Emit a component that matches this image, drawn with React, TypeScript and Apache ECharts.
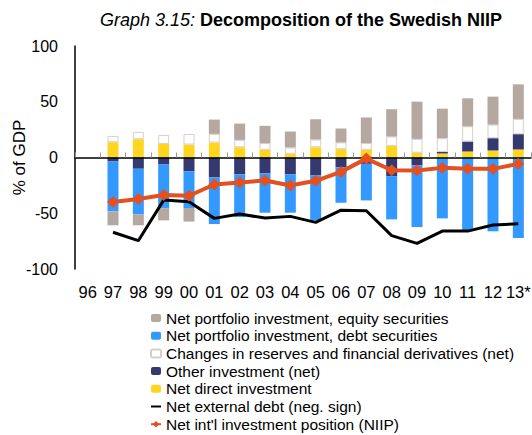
import React, { useEffect, useRef } from "react";
import * as echarts from "echarts";

const categories = ["96", "97", "98", "99", "00", "01", "02", "03", "04", "05", "06", "07", "08", "09", "10", "11", "12", "13*"];
const yTicks = [-100, -50, 0, 50, 100];

const directInv = [null, 13.7, 16.4, 12.2, 11.6, 13.4, 9.2, 6.9, 3.3, 9.2, 7.5, 6.9, 10.4, 4.2, 3.6, 5.4, 6.3, 7.2];
const otherInv = [null, -3.6, -10.1, -6.3, -12.5, -17.9, -15.2, -14.3, -15.2, -15.8, -8.7, -5.7, -16.7, -6.9, 1.5, 8.9, 11.0, 13.7];
const reserves = [null, 5.7, 6.6, 8.1, 9.5, 7.8, 6.6, 6.0, 5.7, 6.9, 6.0, 6.0, 8.4, 12.5, 12.2, 13.7, 12.2, 13.7];
const debtSec = [null, -44.7, -40.9, -39.1, -32.8, -41.8, -38.2, -35.2, -34.3, -40.6, -31.9, -32.8, -38.8, -55.5, -54.6, -65.3, -66.2, -72.2];
const equitySec = [null, -12.5, -9.8, -11.0, -12.2, 12.8, 14.6, 15.5, 14.3, 18.2, 12.5, 23.0, 24.5, 33.4, 26.5, 25.1, 25.1, 31.0];
const netExtDebt = [null, -67, -74.6, -38.2, -39.7, -54.6, -50.7, -54.3, -52.8, -58.2, -47.2, -47.8, -70.1, -77.0, -66.0, -66.0, -60.6, -59.4];
const niip = [null, -40, -37.3, -33.7, -34.3, -24.2, -22.4, -20.6, -25.1, -20.9, -12.9, -1.0, -11.4, -11.7, -9.3, -10.2, -10.2, -5.7];

const names = {
  equity: "Net portfolio investment, equity securities",
  debt: "Net portfolio investment, debt securities",
  reserves: "Changes in reserves and financial derivatives (net)",
  other: "Other investment (net)",
  direct: "Net direct investment",
  extDebt: "Net external debt (neg. sign)",
  niip: "Net int'l investment position (NIIP)",
};

const FONT = "'Liberation Sans', Arial, Helvetica, sans-serif";

export default function App() {
  const ref = useRef<HTMLDivElement>(null);
  useEffect(() => {
    if (!ref.current) return;
    const chart = echarts.init(ref.current, undefined, { renderer: "svg" });
    const barBase = { type: "bar", stack: "a", barWidth: 11, xAxisIndex: 0, yAxisIndex: 0 };
    chart.setOption({
      animation: false,
      textStyle: { fontFamily: FONT, color: "#000" },
      title: {
        left: 100,
        top: 11,
        padding: 0,
        text: "{i|Graph 3.15: }{b|Decomposition of the Swedish NIIP}",
        textStyle: {
          rich: {
            i: { fontStyle: "italic", fontWeight: "normal", fontSize: 18, fontFamily: FONT, color: "#000" },
            b: { fontWeight: "bold", fontSize: 18, fontFamily: FONT, color: "#000" },
          },
        },
      },
      grid: { left: 75, right: 1, top: 46, bottom: 166, containLabel: false, outerBoundsMode: "none" },
      legend: {
        orient: "vertical",
        left: 150,
        top: 310,
        height: 125,
        padding: 0,
        itemWidth: 10,
        itemHeight: 8,
        itemGap: 1.7,
        textStyle: { fontSize: 15.5, lineHeight: 15.5, color: "#000", fontFamily: FONT },
        data: [
          names.equity,
          names.debt,
          names.reserves,
          names.other,
          names.direct,
          { name: names.extDebt, itemStyle: { opacity: 0 } },
          names.niip,
        ],
      },
      xAxis: [
        {
          type: "category",
          data: categories,
          position: "bottom",
          z: 5,
          axisLine: { onZero: true, lineStyle: { color: "#000", width: 1.5 } },
          axisTick: { show: true, inside: true, length: 5, lineStyle: { color: "#999" } },
          axisLabel: { show: false },
        },
        {
          type: "category",
          data: categories,
          position: "bottom",
          axisLine: { show: false, onZero: false },
          axisTick: { show: false },
          axisLabel: { show: true, interval: 0, margin: 14, fontSize: 16.5, color: "#000", fontFamily: FONT },
        },
      ],
      yAxis: {
        type: "value",
        min: yTicks[0],
        max: yTicks[yTicks.length - 1],
        interval: 50,
        name: "% of GDP",
        nameLocation: "middle",
        nameRotate: 90,
        nameGap: 47,
        nameMoveOverlap: false,
        nameTextStyle: { fontSize: 17, color: "#000", fontFamily: FONT },
        axisLine: { show: true, lineStyle: { color: "#000", width: 1.5 } },
        axisTick: { show: false },
        splitLine: { show: false },
        axisLabel: { fontSize: 16, color: "#000", margin: 17, fontFamily: FONT },
      },
      series: [
        { ...barBase, name: names.direct, data: directInv, itemStyle: { color: "#FFD520" } },
        { ...barBase, name: names.other, data: otherInv, itemStyle: { color: "#343A70" } },
        { ...barBase, name: names.reserves, data: reserves, itemStyle: { color: "#FFFFFF", borderColor: "#D8CFCA", borderWidth: 1 } },
        { ...barBase, name: names.debt, data: debtSec, itemStyle: { color: "#3399FF" } },
        { ...barBase, name: names.equity, data: equitySec, itemStyle: { color: "#B5A8A0" } },
        {
          type: "line",
          name: names.extDebt,
          data: netExtDebt,
          z: 6,
          symbol: "none",
          lineStyle: { color: "#000", width: 3 },
          itemStyle: { color: "#000" },
        },
        {
          type: "line",
          name: names.niip,
          data: niip,
          z: 7,
          symbol: "diamond",
          symbolSize: 12,
          lineStyle: { color: "#E5501E", width: 4 },
          itemStyle: { color: "#E5501E" },
        },
      ],
    });
    return () => chart.dispose();
  }, []);
  return <div ref={ref} style={{ position: "absolute", left: 0, top: 0, width: 532, height: 435 }} />;
}
